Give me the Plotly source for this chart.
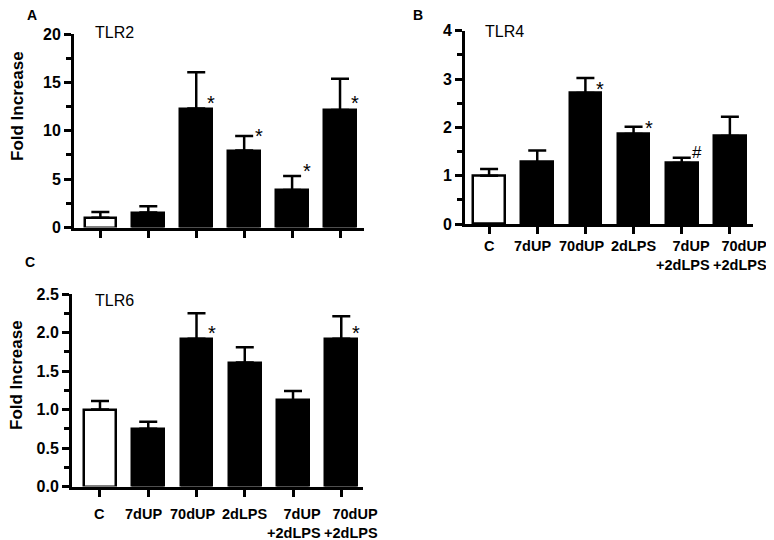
import plotly.graph_objects as go

# groups, same order in every panel
groups = ["C", "7dUP", "70dUP", "2dLPS", "7dUP<br>+2dLPS", "70dUP<br>+2dLPS"]
# small horizontal nudges of the group labels, as placed in the original figure (px)
label_nudge = [0, -5, -4, 0, 1, 10]

# TLR2 (panel A): mean and top of the error bar
tlr2_mean = [1.0, 1.55, 12.3, 7.95, 3.88, 12.15]
tlr2_top = [1.6, 2.2, 16.05, 9.47, 5.32, 15.37]
tlr2_marks = ["", "", "*", "*", "*", "*"]
tlr2_mark_y = [0, 0, 13.3, 9.9, 6.25, 13.3]

# TLR4 (panel B)
tlr4_mean = [1.0, 1.28, 2.71, 1.86, 1.26, 1.82]
tlr4_top = [1.14, 1.52, 3.02, 2.01, 1.37, 2.22]
tlr4_marks = ["", "", "*", "*", "#", ""]
tlr4_mark_y = [0, 0, 2.88, 2.07, 1.48, 0]

# TLR6 (panel C)
tlr6_mean = [1.0, 0.75, 1.92, 1.61, 1.12, 1.92]
tlr6_top = [1.11, 0.84, 2.25, 1.81, 1.24, 2.21]
tlr6_marks = ["", "", "*", "", "", "*"]
tlr6_mark_y = [0, 0, 2.05, 0, 0, 2.05]

FONT = "Liberation Sans, Arial, Helvetica, sans-serif"
# page body has an 8px margin, so the figure is 8px smaller and everything
# measured on the screenshot is shifted back by 8px
PAD = 8
W, H = 774 - PAD, 540 - PAD


def px_x(x):
    return (x - PAD) / W


def px_y(y):
    return (H + PAD - y) / H


panels = [
    # letter, gene, data..., axis id, box px (x0, x1, ybottom, ytop), yrange, dtick, minor,
    # fmt, label shift (None = no labels), xrange, gene pos, letter pos
    ("A", "TLR2", tlr2_mean, tlr2_top, tlr2_marks, tlr2_mark_y, "", (74, 364, 227.5, 34),
     [0, 20], 5, 2.5, "d", None, [-0.55, 5.5], (93, 33), (31.5, 15)),
    ("B", "TLR4", tlr4_mean, tlr4_top, tlr4_marks, tlr4_mark_y, "2", (465, 753, 224, 30.7),
     [0, 4], 1, 0.5, "d", -12, [-0.5, 5.48], (483, 31), (418, 15)),
    ("C", "TLR6", tlr6_mean, tlr6_top, tlr6_marks, tlr6_mark_y, "3", (72, 363, 486.5, 294),
     [0, 2.5], 0.5, 0.25, ".1f", -17.5, [-0.58, 5.45], (93, 300), (30, 262)),
]

fig = go.Figure()
xs = list(range(len(groups)))
layout = {}
annotations = []

for (letter, gene, mean, top, marks, mark_y, ax, (x0, x1, yb, yt), yr, dt, mdt, fmt,
     lab_shift, xr, gene_pos, letter_pos) in panels:
    colors = ["white"] + ["black"] * (len(groups) - 1)
    fig.add_trace(go.Bar(
        x=xs, y=mean, width=0.66,
        marker=dict(color=colors, line=dict(color="black", width=2.5)),
        error_y=dict(type="data", symmetric=False,
                     array=[t - m for t, m in zip(top, mean)],
                     arrayminus=[0] * len(mean),
                     color="black", thickness=2.5, width=9),
        xaxis="x" + ax, yaxis="y" + ax, showlegend=False, hoverinfo="skip"))

    layout["xaxis" + ax] = dict(
        domain=[px_x(x0), px_x(x1)], range=xr, anchor="y" + ax, automargin=False,
        tickvals=xs, showticklabels=False,
        ticks="outside", ticklen=7, tickwidth=2.5, tickcolor="black",
        showline=True, linewidth=3, linecolor="black", showgrid=False, zeroline=False)
    layout["yaxis" + ax] = dict(
        domain=[px_y(yb), px_y(yt)], range=yr, anchor="x" + ax, dtick=dt, tick0=0,
        tickformat=fmt, automargin=False,
        ticks="outside", ticklen=7, tickwidth=2.5, tickcolor="black",
        minor=dict(dtick=mdt, tick0=0, ticks="outside", ticklen=5, tickwidth=2.5, tickcolor="black"),
        showline=True, linewidth=3, linecolor="black", showgrid=False, zeroline=False,
        tickfont=dict(family=FONT, size=16, color="black", weight="bold"))

    # group labels under the axis (right-aligned lines, like the original)
    if lab_shift is not None:
        for i, (g, nudge) in enumerate(zip(groups, label_nudge)):
            annotations.append(dict(
                x=i, y=0, xref="x" + ax, yref="y" + ax, text="<b>" + g + "</b>",
                showarrow=False, xanchor="center", yanchor="top", align="right",
                xshift=nudge, yshift=lab_shift,
                font=dict(family=FONT, size=14.5, color="black")))

    # significance marks next to the error bars
    for i, (m, my) in enumerate(zip(marks, mark_y)):
        if m:
            annotations.append(dict(
                x=i, y=my, xref="x" + ax, yref="y" + ax, text=m, showarrow=False,
                xshift=15, yshift=-4 if m == "*" else 0,
                font=dict(family=FONT, size=20 if m == "*" else 17, color="black")))

    # gene name inside the plot
    annotations.append(dict(
        x=px_x(gene_pos[0]), y=px_y(gene_pos[1]), xref="paper", yref="paper",
        text=gene, showarrow=False, xanchor="left", yanchor="middle",
        font=dict(family=FONT, size=16, color="black")))

    # panel letter
    annotations.append(dict(
        x=px_x(letter_pos[0]), y=px_y(letter_pos[1]), xref="paper", yref="paper",
        text="<b>" + letter + "</b>", showarrow=False, xanchor="center", yanchor="middle",
        borderpad=0, font=dict(family=FONT, size=14, color="black")))

# y-axis titles for A and C
for (tx, ty) in [(17, 106), (16, 375)]:
    annotations.append(dict(
        x=px_x(tx), y=px_y(ty), xref="paper", yref="paper",
        text="<b>Fold Increase</b>", showarrow=False, textangle=-90,
        xanchor="center", yanchor="middle",
        font=dict(family=FONT, size=17, color="black")))

fig.update_layout(
    width=W, height=H, margin=dict(l=0, r=0, t=0, b=0),
    paper_bgcolor="white", plot_bgcolor="white",
    annotations=annotations, bargap=0, **layout)

fig.write_html("out.html")
